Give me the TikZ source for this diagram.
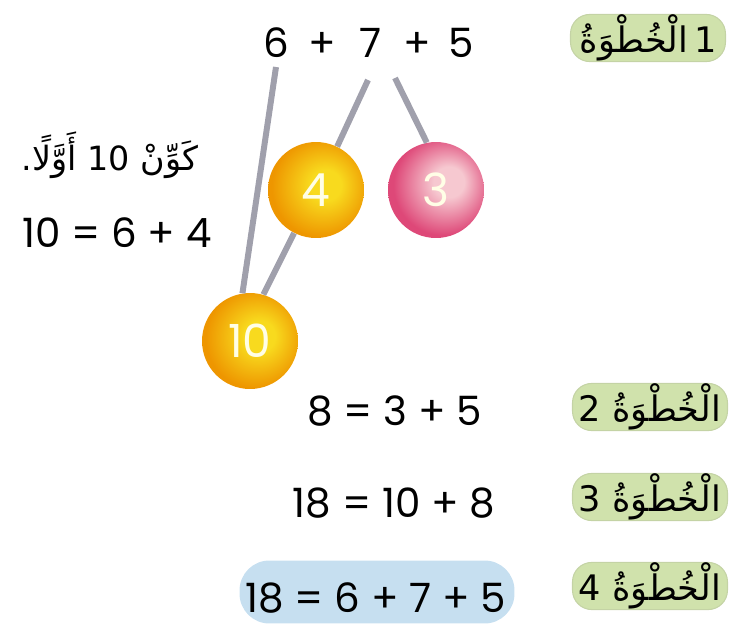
\documentclass[tikz,border=0pt]{standalone}
\usepackage{fontspec}
\setmainfont{Poppins}
\newfontfamily\arabicfont[Script=Arabic]{DejaVu Sans}
\TeXXeTstate=1
\usetikzlibrary{positioning}

\definecolor{linkgray}{RGB}{160,160,172}
\definecolor{stepgreen}{RGB}{208,226,172}
\definecolor{sumblue}{RGB}{198,223,240}
\definecolor{orangehi}{RGB}{248,218,30}
\definecolor{orangelo}{RGB}{238,150,0}
\definecolor{pinkhi}{RGB}{246,200,208}
\definecolor{pinklo}{RGB}{222,72,120}

\pgfdeclareradialshading{orangeball}{\pgfpoint{6bp}{3bp}}{color(0bp)=(orangehi); color(8bp)=(orangehi); color(26bp)=(orangelo); color(50bp)=(orangelo)}
\pgfdeclareradialshading{pinkball}{\pgfpoint{8bp}{5bp}}{color(0bp)=(pinkhi); color(8bp)=(pinkhi); color(26bp)=(pinklo); color(50bp)=(pinklo)}

\newcommand{\stepword}{\hbox{\beginR الْخُطْوَةُ\endR}}

\begin{document}
\begin{tikzpicture}[x=0.02cm, y=-0.02cm,
    num/.style={anchor=base, inner sep=1pt, font=\fontsize{23}{27}\selectfont},
    ball/.style={circle, minimum size=1.92cm, inner sep=0pt, text=white!90!yellow, font=\fontsize{26}{28}\selectfont},
    link/.style={linkgray, line width=3.4pt},
    stepbox/.style={rounded corners=11pt, fill=stepgreen, draw=stepgreen!85!gray, line width=0.6pt, minimum width=3.1cm, minimum height=0.88cm, inner sep=0pt, font=\arabicfont\fontsize{20}{24}\selectfont},
    sumbox/.style={rounded corners=17pt, fill=sumblue, minimum width=5.5cm, minimum height=1.26cm}]
  \useasboundingbox (0,0) rectangle (735,629);

  % Sum to split
  \node (d6) [num] at (276,57) {6};
  \node (p1) [num] at (322,57) {+};
  \node (d7) [num] at (371,57) {7};
  \node (p2) [num] at (417,57) {+};
  \node (d5) [num] at (461,57) {5};

  % Balls
  \node (b4) [ball, shading=orangeball] at (316,190) {4};
  \node (b3) [ball, shading=pinkball] at (436,190) {3};
  \node (b10) [ball, shading=orangeball] at (250,341) {10};

  % Make ten first
  \node (hint) [anchor=base, inner sep=0pt, font=\arabicfont\fontsize{19}{22}\selectfont] at (110,170) {\beginR كَوِّنْ \beginL10\endL{} أَوَّلًا.\endR};
  \node (ten) [num] at (117,247) {10 = 6 + 4};

  % Steps
  \node (s1) [stepbox] at (648,38) {\stepword\hbox{\,1}};
  \node (s2) [stepbox] at (650,407) {\hbox{2\ }\stepword};
  \node (s3) [stepbox] at (650,497) {\hbox{3\ }\stepword};
  \node (s4) [stepbox] at (650,586) {\hbox{4\ }\stepword};

  % Equations
  \node (eq2) [num] at (395,425) {8 = 3 + 5};
  \node (eq3) [num] at (394,517) {18 = 10 + 8};
  \node (sum) [sumbox] at (377,592) {};
  \node (eq4) [num] at (376,612) {18 = 6 + 7 + 5};

  % Connections
  \draw[link] ([shift={(0,10)}]d6.base) -- (b10.99);
  \draw[link] ([shift={(-3,23)}]d7.base) -- (b4.64);
  \draw[link] ([shift={(24,21)}]d7.base) -- (b3.101);
  \draw[link] (b4.243) -- (b10.74);
\end{tikzpicture}
\end{document}
